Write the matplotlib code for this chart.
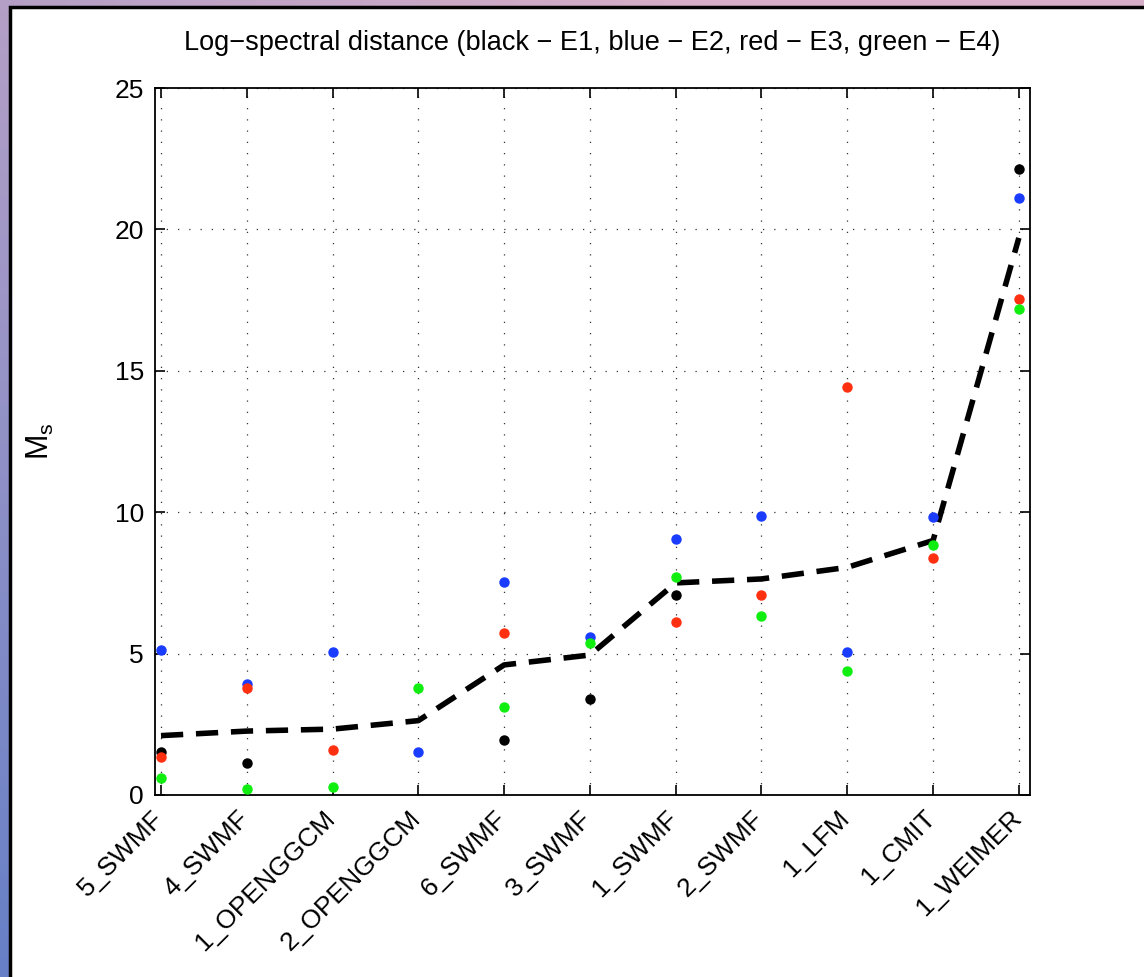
import numpy as np
import matplotlib
matplotlib.use('Agg')
from matplotlib import pyplot as plt
from matplotlib.patches import Rectangle
from matplotlib.transforms import ScaledTranslation

plt.rcParams['font.family'] = ['Liberation Sans', 'DejaVu Sans']
plt.rcParams['mathtext.fontset'] = 'custom'
plt.rcParams['mathtext.rm'] = 'Liberation Sans'
plt.rcParams['mathtext.it'] = 'Liberation Sans'

models = ['5_SWMF', '4_SWMF', '1_OPENGGCM', '2_OPENGGCM', '6_SWMF', '3_SWMF',
          '1_SWMF', '2_SWMF', '1_LFM', '1_CMIT', '1_WEIMER']
e1 = [1.53, 1.14, np.nan, np.nan, 1.96, 3.39, 7.08, np.nan, np.nan, np.nan, 22.15]
e2 = [5.12, 3.93, 5.04, 1.51, 7.53, 5.6, 9.05, 9.88, 5.06, 9.82, 21.1]
e3 = [1.35, 3.77, 1.59, np.nan, 5.74, np.nan, 6.11, 7.08, 14.43, 8.37, 17.55]
e4 = [0.61, 0.22, 0.29, 3.77, 3.11, 5.36, 7.7, 6.34, 4.37, 8.83, 17.18]
mean_ms = [2.1, 2.26, 2.33, 2.63, 4.6, 4.95, 7.5, 7.64, 8.05, 9.0, 19.7]

W, H = 1144, 977
fig = plt.figure(figsize=(W / 100, H / 100), dpi=100)

# purple/blue frame behind the white panel
bg = fig.add_axes([0, 0, 1, 1], zorder=-10)
xx, yy = np.meshgrid(np.linspace(0, 1, 200), np.linspace(0, 1, 200))
blue = np.array([0.40, 0.50, 0.78])
pink = np.array([0.84, 0.68, 0.78])
t = np.clip(0.5 * xx + 0.7 * (1 - yy), 0, 1)[..., None]
bg.imshow(blue * (1 - t) + pink * t, extent=[0, 1, 0, 1], aspect='auto', origin='upper')
bg.axis('off')
fig.patches.append(Rectangle((10 / W, -0.01), 1.0, 1 - 7 / H + 0.01, transform=fig.transFigure,
                             facecolor='white', edgecolor='black', linewidth=2.5, zorder=-5))

ax = fig.add_axes([155 / W, 1 - 795 / H, (1030 - 155) / W, (795 - 88) / H])
x = np.arange(1, len(models) + 1)
ax.plot(x, mean_ms, color='black', lw=4, linestyle=(0, (4, 2.3)), zorder=3)
ax.plot(x, e1, 'o', color='black', ms=6.5, zorder=4)
ax.plot(x, e2, 'o', color='#1a3cff', ms=6.5, zorder=4)
ax.plot(x, e3, 'o', color='#ff3010', ms=6.5, zorder=4)
ax.plot(x, e4, 'o', color='#10ee10', ms=6.5, zorder=4)

ax.set_xlim(0.93, 11.13)
ax.set_ylim(0, 25)
ax.set_yticks([0, 5, 10, 15, 20, 25])
ax.set_xticks(x)
ax.tick_params(axis='y', labelsize=19)
ax.tick_params(direction='in', top=True, right=True, length=7, width=1.2, pad=8)
ax.set_xticklabels(models, rotation=45, ha='right', rotation_mode='anchor', fontsize=19)
shift = ScaledTranslation(-0.1, 0, fig.dpi_scale_trans)
for tk in ax.xaxis.get_major_ticks():
    tk.label1.set_transform(tk.label1.get_transform() + shift)
ax.grid(True, linestyle=(0, (1, 8)), color='#333333', linewidth=0.9)
for s in ax.spines.values():
    s.set_linewidth(1.3)
ax.set_title('Log\u2212spectral distance (black \u2212 E1, blue \u2212 E2, red \u2212 E3, green \u2212 E4)',
             fontsize=19.5, pad=27)
ax.set_ylabel(r'$\mathregular{M_s}$', fontsize=22, labelpad=42)

fig.savefig('out.png', dpi=100)
